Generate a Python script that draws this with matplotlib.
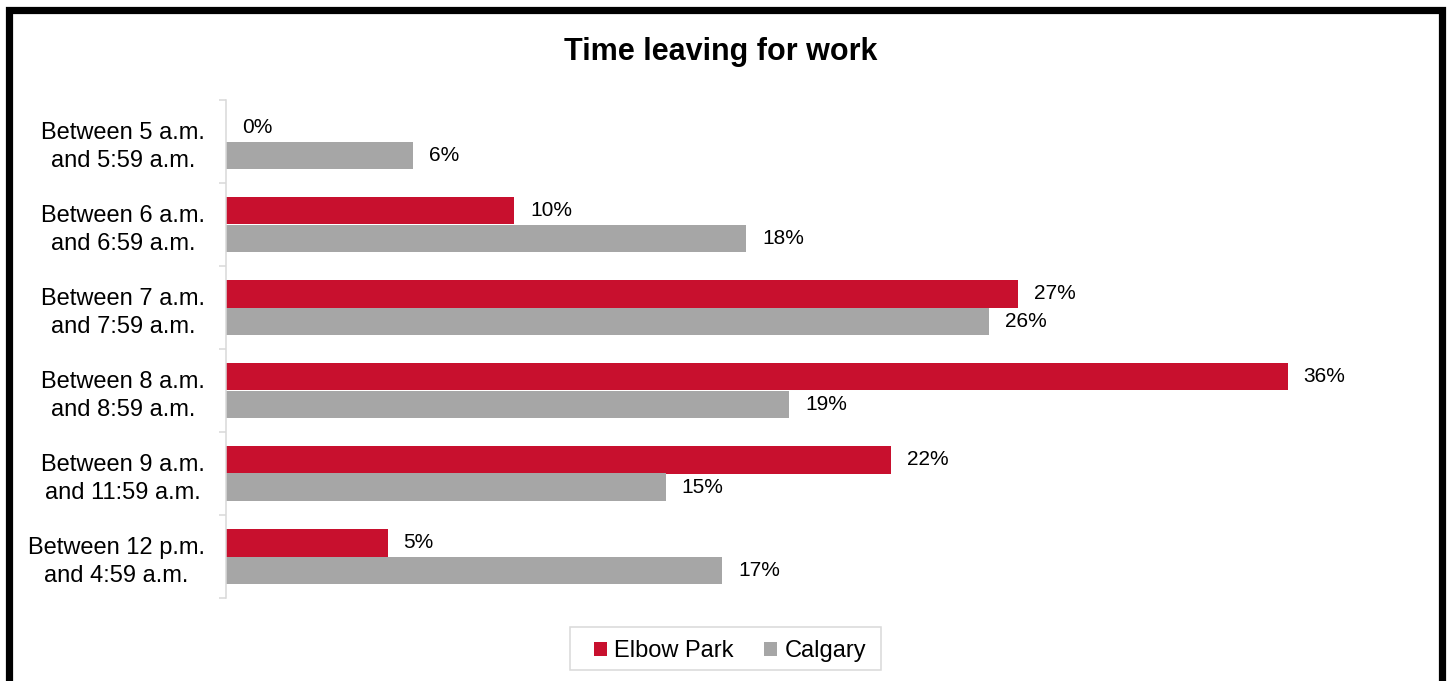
import matplotlib
matplotlib.use("Agg")
import matplotlib.pyplot as plt
from matplotlib.patches import Rectangle
import numpy as np

plt.rcParams['font.family'] = ['Liberation Sans', 'DejaVu Sans']

categories = ["Between 5 a.m.\nand 5:59 a.m.",
              "Between 6 a.m.\nand 6:59 a.m.",
              "Between 7 a.m.\nand 7:59 a.m.",
              "Between 8 a.m.\nand 8:59 a.m.",
              "Between 9 a.m.\nand 11:59 a.m.",
              "Between 12 p.m.\nand 4:59 a.m."]
elbow_park = [0.0, 9.73, 26.77, 35.87, 22.47, 5.46]
calgary = [6.33, 17.57, 25.79, 19.02, 14.85, 16.76]
series_names = ["Elbow Park", "Calgary"]
colors = ["#C8102E", "#A6A6A6"]

W, H = 1452, 681
fig = plt.figure(figsize=(W / 100, H / 100), dpi=100)

ax = fig.add_axes([226 / W, 1 - 598 / H, (1410 - 226) / W, (598 - 100) / H])

n = len(categories)
y = np.arange(n)
bh = 0.331
ax.barh(y - bh / 2, elbow_park, height=bh, color=colors[0], label=series_names[0])
ax.barh(y + bh / 2, calgary, height=bh, color=colors[1], label=series_names[1])

for i in range(n):
    for vals, off in ((elbow_park, -bh / 2), (calgary, bh / 2)):
        v = vals[i]
        ax.annotate(f"{v:.0f}%", xy=(v, y[i] + off), xytext=(11.5, 0),
                    textcoords="offset points", ha="left", va="center",
                    fontsize=15, color="#000000")

ax.set_xlim(0, 40)
ax.set_ylim(n - 0.5, -0.5)
ax.set_yticks(y)
ax.set_yticklabels(categories, fontsize=17, multialignment="center", linespacing=1.35)
ax.set_yticks(np.arange(n + 1) - 0.5, minor=True)
ax.tick_params(axis="y", which="major", length=0, pad=15)
ax.tick_params(axis="y", which="minor", length=5, width=1.1, color="#D9D9D9")
ax.set_xticks([])
for s in ("top", "right", "bottom"):
    ax.spines[s].set_visible(False)
ax.spines["left"].set_color("#D9D9D9")
ax.spines["left"].set_linewidth(1.1)

fig.text(721 / W, 1 - 52 / H, "Time leaving for work", ha="center", va="center",
         fontsize=22, fontweight="bold")

leg = fig.legend(loc="center", bbox_to_anchor=(730 / W, 1 - 651 / H),
                 ncol=2, fontsize=17, frameon=False,
                 handlelength=0.55, handleheight=0.55, handletextpad=0.3,
                 columnspacing=1.3)

# legend frame
fig.patches.append(Rectangle((570 / W, 1 - 670 / H), (881 - 570) / W, (670 - 627) / H,
                             transform=fig.transFigure, fill=False,
                             edgecolor="#D9D9D9", linewidth=1.1))

# outer border
fig.patches.append(Rectangle((8.5 / W, -20 / H), (1442 - 8.5) / W, (681 + 20 - 10) / H,
                             transform=fig.transFigure, fill=False,
                             edgecolor="black", linewidth=5.2))

fig.savefig("out.png", dpi=100)
